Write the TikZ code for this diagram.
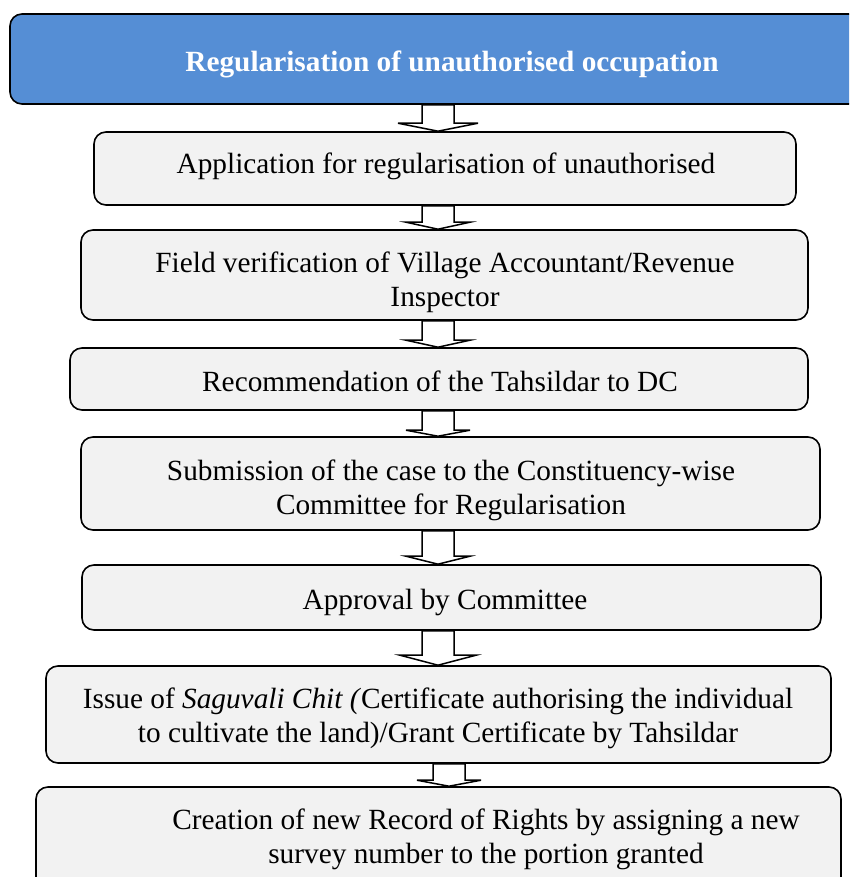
\documentclass[tikz,border=0pt]{standalone}
\usepackage{fontspec}
\setmainfont{Liberation Serif}
\usetikzlibrary{calc}
\definecolor{boxgray}{HTML}{F2F2F2}
\definecolor{titleblue}{HTML}{558ED5}
\tikzset{
  box/.style={draw=black, line width=1.6pt, rounded corners=12pt, fill=boxgray, inner sep=0pt},
  titlebox/.style={draw=black, line width=1.6pt, rounded corners=12pt, fill=titleblue, inner sep=0pt},
  txt/.style={font=\fontsize{29.3}{34}\selectfont, align=center, inner sep=0pt},
  titletxt/.style={font=\fontsize{29.3}{34}\selectfont\bfseries, text=white, inner sep=0pt},
  blockarrow/.style={draw=black, line width=1.5pt, fill=white, line join=miter}
}
% #1 from node, #2 to node, #3 centre x, #4 head half-width, #5 head length
\newcommand\blockarr[5]{%
  \draw[blockarrow] let \p1=(#1.south), \p2=(#2.north) in
    (#3pt-16pt,\y1) -- (#3pt-16pt,\y2+#5pt) -- (#3pt-#4pt,\y2+#5pt) -- (#3pt,\y2)
    -- (#3pt+#4pt,\y2+#5pt) -- (#3pt+16pt,\y2+#5pt) -- (#3pt+16pt,\y1) -- cycle;}
\begin{document}
\begin{tikzpicture}[x=1pt,y=-1pt]
\useasboundingbox (0,0) rectangle (849,877);
\clip (0,0) rectangle (849,877);
\fill[white] (0,0) rectangle (849,877);
% boxes
\node[titlebox, minimum width=870pt, minimum height=90pt] (b0) at (445,59) {};
\node[box, minimum width=702pt, minimum height=73pt] (b1) at (445,168.5) {};
\node[box, minimum width=727pt, minimum height=90pt] (b2) at (444.5,275) {};
\node[box, minimum width=738pt, minimum height=62pt] (b3) at (439,379) {};
\node[box, minimum width=739pt, minimum height=93pt] (b4) at (450.5,483.5) {};
\node[box, minimum width=739pt, minimum height=65pt] (b5) at (451.5,597.5) {};
\node[box, minimum width=785pt, minimum height=97pt] (b6) at (438.5,714.5) {};
\node[box, minimum width=805pt, minimum height=113pt] (b7) at (438.5,843.5) {};
% texts
\node[titletxt] (t0) at (452,64) {Regularisation of unauthorised occupation};
\node[txt] (t1) at (446,166) {Application for regularisation of unauthorised};
\begin{scope}
\clip (b2.north west) rectangle ([yshift=-12pt]b2.south east);
\node[txt] (t2) at (445,282) {Field verification of Village Accountant/Revenue\\Inspector};
\end{scope}
\node[txt] (t3) at (440,381) {Recommendation of the Tahsildar to DC};
\begin{scope}
\clip (b4.north west) rectangle ([yshift=-3pt]b4.south east);
\node[txt] (t4) at (451,490) {Submission of the case to the Constituency-wise\\Committee for Regularisation};
\end{scope}
\node[txt] (t5) at (445,602) {Approval by Committee};
\node[txt] (t6) at (438,718.5) {Issue of \textit{Saguvali Chit (}Certificate authorising the individual\\to cultivate the land)/Grant Certificate by Tahsildar};
\node[txt] (t7) at (486,839.5) {Creation of new Record of Rights by assigning a new\\survey number to the portion granted};
% block arrows
\blockarr{b0}{b1}{438}{40}{8}
\blockarr{b1}{b2}{438}{32}{7}
\blockarr{b2}{b3}{438}{32}{7}
\blockarr{b3}{b4}{438}{32}{6}
\blockarr{b4}{b5}{438}{32}{8}
\blockarr{b5}{b6}{438}{38}{10}
\blockarr{b6}{b7}{449}{32}{6}
\end{tikzpicture}
\end{document}
